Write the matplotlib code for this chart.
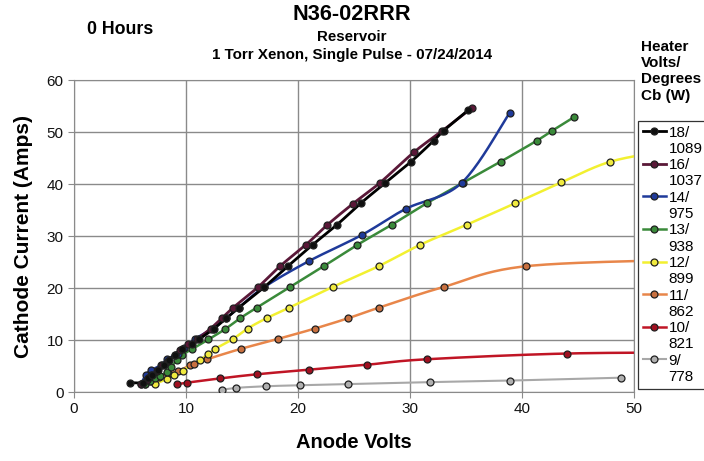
import numpy as np
import matplotlib
matplotlib.use("Agg")
import matplotlib.pyplot as plt
from matplotlib.lines import Line2D

plt.rcParams['font.family'] = ['Liberation Sans', 'DejaVu Sans']

# series: anode volts (x) vs cathode current in amps (y)
x_18 = [5.0, 6.2, 6.6, 7.0, 7.5, 8.0, 8.5, 9.0, 9.6, 10.5, 11.2, 12.5, 13.6, 14.7, 17.0,
        19.1, 21.3, 23.5, 25.6, 27.8, 30.1, 32.1, 33.0, 35.2]
y_18 = [1.8, 1.8, 2.6, 3.3, 4.2, 5.2, 6.2, 7.2, 8.2, 9.3, 10.2, 12.2, 14.2, 16.2, 20.2,
        24.2, 28.3, 32.2, 36.3, 40.2, 44.3, 48.3, 50.25, 54.2]
x_16 = [6.0, 6.5, 6.9, 7.4, 7.9, 8.4, 9.0, 9.5, 10.2, 11.0, 12.2, 13.2, 14.2, 16.4, 18.4,
        20.7, 22.6, 24.9, 27.3, 30.4, 32.9, 35.5]
y_16 = [1.5, 2.4, 3.2, 4.1, 5.1, 6.0, 7.1, 8.0, 9.2, 10.2, 12.2, 14.2, 16.2, 20.1, 24.2,
        28.3, 32.1, 36.2, 40.2, 46.2, 50.25, 54.6]
x_14 = [6.0, 6.4, 6.9, 7.8, 8.3, 9.3, 9.8, 10.8, 12.4, 13.6, 14.7, 17.0, 21.0, 25.7,
        29.6, 34.6, 38.9]
y_14 = [1.5, 3.3, 4.2, 5.2, 6.3, 7.4, 8.4, 10.2, 12.2, 14.2, 16.2, 20.2, 25.2, 30.2,
        35.2, 40.2, 53.7]
x_13 = [6.3, 6.8, 7.2, 7.7, 8.3, 8.7, 9.2, 9.6, 10.5, 12.0, 13.5, 14.85, 16.3, 19.3,
        22.3, 25.3, 28.4, 31.5, 34.7, 38.1, 41.3, 42.7, 44.6]
y_13 = [1.5, 2.2, 2.6, 3.1, 3.9, 4.9, 6.2, 7.1, 8.2, 10.1, 12.1, 14.2, 16.2, 20.2,
        24.2, 28.3, 32.2, 36.3, 40.2, 44.3, 48.3, 50.25, 52.8]
x_12 = [7.2, 8.3, 8.9, 9.7, 11.25, 12.0, 12.6, 14.2, 15.5, 17.2, 19.2, 23.1, 27.2,
        30.9, 35.1, 39.4, 43.5, 47.9, 53.0]
y_12 = [1.5, 2.5, 3.3, 4.1, 6.2, 7.25, 8.3, 10.2, 12.2, 14.2, 16.2, 20.2, 24.2,
        28.3, 32.2, 36.3, 40.3, 44.3, 46.4]
x_11 = [6.3, 6.9, 7.6, 8.4, 9.3, 10.4, 10.7, 11.9, 14.9, 18.2, 21.5, 24.5, 27.2,
        33.0, 40.4, 56.0]
y_11 = [1.5, 2.2, 2.9, 3.6, 4.0, 5.2, 5.3, 6.3, 8.3, 10.2, 12.2, 14.2, 16.2,
        20.2, 24.2, 25.5]
x_10 = [9.2, 10.1, 13.0, 16.3, 21.0, 26.2, 31.5, 44.0, 57.0]
y_10 = [1.5, 1.8, 2.6, 3.4, 4.3, 5.25, 6.3, 7.4, 7.6]
x_9 = [13.2, 14.5, 17.1, 20.2, 24.5, 31.8, 38.9, 48.8]
y_9 = [0.45, 0.8, 1.1, 1.3, 1.5, 1.9, 2.2, 2.75]

labels = [("18/", "1089"), ("16/", "1037"), ("14/", "975"), ("13/", "938"),
          ("12/", "899"), ("11/", "862"), ("10/", "821"), ("9/", "778")]


def smooth(x, y, n=24):
    # excel style smoothed line: bezier through the points
    pts = np.column_stack([x, y]).astype(float)
    P = np.vstack([pts[0], pts, pts[-1]])
    t = np.linspace(0, 1, n)[:, None]
    segs = []
    for i in range(1, len(P) - 2):
        p0, p1, p2, p3 = P[i - 1], P[i], P[i + 1], P[i + 2]
        c1 = p1 + (p2 - p0) / 6
        c2 = p2 - (p3 - p1) / 6
        segs.append((1 - t)**3 * p1 + 3 * (1 - t)**2 * t * c1
                    + 3 * (1 - t) * t**2 * c2 + t**3 * p2)
    s = np.vstack(segs)
    return s[:, 0], s[:, 1]


series = [
    (x_9, y_9, "#a8a8a8", "#b0b0b0", 1.5),
    (x_10, y_10, "#c01525", "#a01020", 1.8),
    (x_11, y_11, "#e8864a", "#c87040", 1.8),
    (x_12, y_12, "#f2f030", "#f0ea40", 1.8),
    (x_13, y_13, "#3a8a3a", "#3a8a3a", 1.8),
    (x_14, y_14, "#1f3a9a", "#1f3a9a", 1.8),
    (x_16, y_16, "#5a1838", "#5a1838", 2.0),
    (x_18, y_18, "#000000", "#101010", 2.0),
]

fig = plt.figure(figsize=(7.04, 4.61), dpi=100)
ax = fig.add_axes([74 / 704, 69 / 461, 560 / 704, 312 / 461])

handles = []
for x, y, lc, mc, lw in series:
    sx, sy = smooth(x, y)
    ax.plot(sx, sy, color=lc, lw=lw, zorder=2)
    ax.plot(x, y, "o", ms=5, mfc=mc, mec="#202020", mew=0.9, zorder=3, clip_on=True)
    handles.append(Line2D([], [], color=lc, lw=lw, marker="o", ms=5, mfc=mc,
                          mec="#202020", mew=0.9))
handles = handles[::-1]

ax.set_xlim(0, 50)
ax.set_ylim(0, 60)
ax.set_xticks(np.arange(0, 51, 10))
ax.set_yticks(np.arange(0, 61, 10))
ax.grid(True, color="#8a8a8a", lw=1.0)
ax.set_axisbelow(True)
for s in ax.spines.values():
    s.set_color("#8a8a8a")
ax.tick_params(colors="#8a8a8a", labelcolor="#111111", labelsize=11, length=4)
ax.set_xlabel("Anode Volts", fontsize=14.5, fontweight="bold", labelpad=12)
ax.set_ylabel("Cathode Current (Amps)", fontsize=15, fontweight="bold", labelpad=10)

fig.text(0.5, 1 - 15 / 461, "N36-02RRR", ha="center", va="center",
         fontsize=15.7, fontweight="bold")
fig.text(0.5, 1 - 37 / 461, "Reservoir", ha="center", va="center",
         fontsize=10.8, fontweight="bold")
fig.text(0.5, 1 - 55 / 461, "1 Torr Xenon, Single Pulse - 07/24/2014", ha="center",
         va="center", fontsize=10.9, fontweight="bold")
fig.text(120 / 704, 1 - 30 / 461, "0 Hours", ha="center", va="center",
         fontsize=12.8, fontweight="bold")
fig.text(641 / 704, 1 - 40 / 461, "Heater\nVolts/\nDegrees\nCb (W)", ha="left",
         va="top", fontsize=11, fontweight="bold", linespacing=1.2)

# two text rows per entry, marker on the first
leg_handles, leg_labels = [], []
for h, (a, b) in zip(handles, labels):
    leg_handles += [h, Line2D([], [], lw=0)]
    leg_labels += [a, b]
leg = fig.legend(leg_handles, leg_labels, loc="upper left",
                 bbox_to_anchor=(638 / 704, 1 - 121 / 461), fontsize=11,
                 labelspacing=0.15, handlelength=1.5, handletextpad=0.2,
                 borderpad=0.3, borderaxespad=0, fancybox=False,
                 edgecolor="#333333", framealpha=1)
leg.get_frame().set_linewidth(0.9)

fig.savefig("out.png", dpi=100)
